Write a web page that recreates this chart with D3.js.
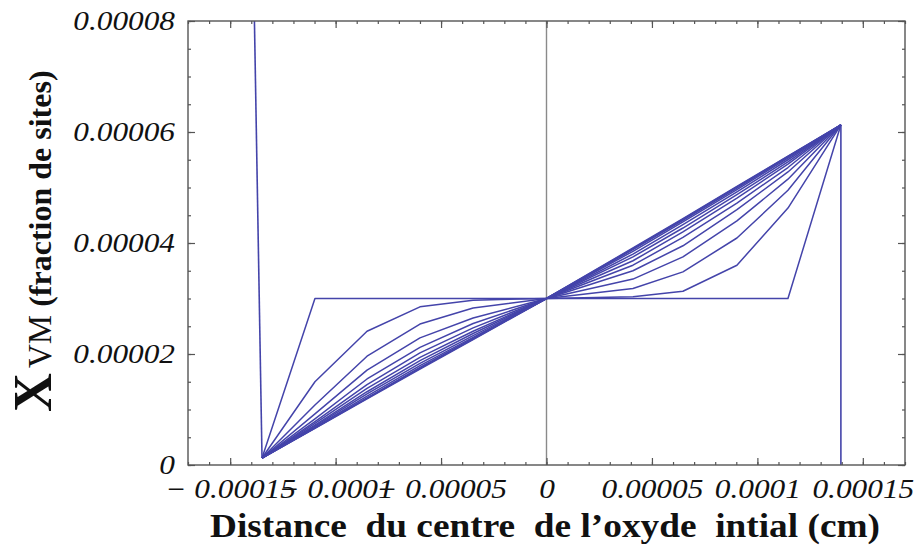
<!DOCTYPE html>
<html>
<head>
<meta charset="utf-8">
<script src="https://cdn.jsdelivr.net/npm/d3@7"></script>
<style>
  body { margin: 0; background: #fff; }
  svg { display: block; }
</style>
</head>
<body>
<svg width="920" height="552"></svg>
<script>
// node positions (cm) of the profiles
var nodeX = [-1.349e-4, -1.098e-4, -0.851e-4, -0.600e-4, -0.348e-4, 0, 0.410e-4, 0.647e-4, 0.903e-4, 1.145e-4, 1.396e-4];

// fraction de sites at each node, one array per time step
var p01 = [0.126e-5, 3.00e-5, 3.00e-5, 3.00e-5, 3.00e-5, 3e-5, 3.00e-5, 3.00e-5, 3.00e-5, 3.00e-5, 6.13e-5];
var p02 = [0.126e-5, 1.50e-5, 2.41e-5, 2.85e-5, 2.97e-5, 3e-5, 3.03e-5, 3.13e-5, 3.60e-5, 4.63e-5, 6.13e-5];
var p03 = [0.126e-5, 1.08e-5, 1.96e-5, 2.54e-5, 2.83e-5, 3e-5, 3.18e-5, 3.48e-5, 4.09e-5, 4.95e-5, 6.13e-5];
var p04 = [0.126e-5, 0.92e-5, 1.71e-5, 2.29e-5, 2.65e-5, 3e-5, 3.35e-5, 3.75e-5, 4.40e-5, 5.15e-5, 6.13e-5];
var p05 = [0.126e-5, 0.83e-5, 1.55e-5, 2.12e-5, 2.55e-5, 3e-5, 3.50e-5, 3.95e-5, 4.60e-5, 5.28e-5, 6.13e-5];
var p06 = [0.126e-5, 0.78e-5, 1.45e-5, 2.02e-5, 2.47e-5, 3e-5, 3.60e-5, 4.10e-5, 4.72e-5, 5.36e-5, 6.13e-5];
var p07 = [0.126e-5, 0.75e-5, 1.38e-5, 1.94e-5, 2.41e-5, 3e-5, 3.68e-5, 4.20e-5, 4.81e-5, 5.42e-5, 6.13e-5];
var p08 = [0.126e-5, 0.72e-5, 1.32e-5, 1.88e-5, 2.37e-5, 3e-5, 3.75e-5, 4.27e-5, 4.87e-5, 5.46e-5, 6.13e-5];
var p09 = [0.126e-5, 0.70e-5, 1.28e-5, 1.83e-5, 2.33e-5, 3e-5, 3.80e-5, 4.33e-5, 4.92e-5, 5.50e-5, 6.13e-5];
var p10 = [0.126e-5, 0.68e-5, 1.24e-5, 1.79e-5, 2.30e-5, 3e-5, 3.85e-5, 4.38e-5, 4.96e-5, 5.53e-5, 6.13e-5];
var p11 = [0.126e-5, 0.67e-5, 1.21e-5, 1.76e-5, 2.28e-5, 3e-5, 3.88e-5, 4.41e-5, 4.99e-5, 5.55e-5, 6.13e-5];
var p12 = [0.126e-5, 0.665e-5, 1.20e-5, 1.74e-5, 2.27e-5, 3e-5, 3.90e-5, 4.43e-5, 5.01e-5, 5.56e-5, 6.13e-5];
var p13 = [0.126e-5, 0.66e-5, 1.19e-5, 1.73e-5, 2.26e-5, 3e-5, 3.91e-5, 4.44e-5, 5.02e-5, 5.565e-5, 6.13e-5];
var profiles = [p01, p02, p03, p04, p05, p06, p07, p08, p09, p10, p11, p12, p13];

// boundary lines (interfaces)
var leftEdgeX = [-1.385e-4, -1.349e-4], leftEdgeY = [8.0e-5, 0.126e-5];
var rightEdgeX = [1.396e-4, 1.396e-4], rightEdgeY = [6.13e-5, 0];

var xTicks = [-0.00015, -0.0001, -0.00005, 0, 0.00005, 0.0001, 0.00015];
var xTickLabels = ["\u2212 0.00015", "\u2212 0.0001", "\u2212 0.00005", "0", "0.00005", "0.0001", "0.00015"];
var yTicks = [0, 0.00002, 0.00004, 0.00006, 0.00008];
var yTickLabels = ["0", "0.00002", "0.00004", "0.00006", "0.00008"];

var svg = d3.select("svg");
var pL = 188, pR = 905, pT = 21, pB = 465;
var blue = "#4444aa";
var sx = 1.16; // labels look horizontally stretched

var x = d3.scaleLinear().domain([-0.00017, 0.00017]).range([pL, pR]);
var y = d3.scaleLinear().domain([0, 0.00008]).range([pB, pT]);

svg.append("rect").attr("width", 920).attr("height", 552).attr("fill", "#fff");

var plot = svg.append("g");
plot.append("clipPath").attr("id", "clip")
  .append("rect").attr("x", pL).attr("y", pT).attr("width", pR - pL).attr("height", pB - pT);

// x = 0 line
plot.append("line")
  .attr("x1", x(0)).attr("x2", x(0)).attr("y1", pT).attr("y2", pB)
  .attr("stroke", "#8a8a8a").attr("stroke-width", 1.4);

var line = d3.line().x(function(d) { return x(d[0]); }).y(function(d) { return y(d[1]); });
var curves = plot.append("g").attr("clip-path", "url(#clip)");

profiles.forEach(function(p) {
  curves.append("path")
    .attr("d", line(nodeX.map(function(v, i) { return [v, p[i]]; })))
    .attr("fill", "none").attr("stroke", blue).attr("stroke-width", 1.5)
    .attr("stroke-linejoin", "round");
});
curves.append("path")
  .attr("d", line(leftEdgeX.map(function(v, i) { return [v, leftEdgeY[i]]; })))
  .attr("fill", "none").attr("stroke", blue).attr("stroke-width", 1.6);
curves.append("path")
  .attr("d", line(rightEdgeX.map(function(v, i) { return [v, rightEdgeY[i]]; })))
  .attr("fill", "none").attr("stroke", blue).attr("stroke-width", 1.6);

// frame with inward ticks on all sides
var xMinor = d3.range(-17, 18).map(function(i) { return i * 1e-5; });
var yMinor = d3.range(0, 17).map(function(i) { return i * 5e-6; });

function tickStyle(g) {
  g.select(".domain").remove();
  g.selectAll("line").attr("stroke", "#555").attr("stroke-width", 1.2);
}

svg.append("g").attr("transform", "translate(0," + pB + ")")
  .call(d3.axisBottom(x).tickValues(xMinor).tickSize(-3).tickFormat(""))
  .call(tickStyle);
svg.append("g").attr("transform", "translate(0," + pT + ")")
  .call(d3.axisTop(x).tickValues(xMinor).tickSize(-3).tickFormat(""))
  .call(tickStyle);
svg.append("g").attr("transform", "translate(" + pL + ",0)")
  .call(d3.axisLeft(y).tickValues(yMinor).tickSize(-3).tickFormat(""))
  .call(tickStyle);
svg.append("g").attr("transform", "translate(" + pR + ",0)")
  .call(d3.axisRight(y).tickValues(yMinor).tickSize(-3).tickFormat(""))
  .call(tickStyle);

var xAxis = svg.append("g").attr("transform", "translate(0," + pB + ")")
  .call(d3.axisBottom(x).tickValues(xTicks).tickSize(-7).tickPadding(14)
    .tickFormat(function(d, i) { return xTickLabels[i]; }))
  .call(tickStyle);
svg.append("g").attr("transform", "translate(0," + pT + ")")
  .call(d3.axisTop(x).tickValues(xTicks).tickSize(-7).tickFormat(""))
  .call(tickStyle);
var yAxis = svg.append("g").attr("transform", "translate(" + pL + ",0)")
  .call(d3.axisLeft(y).tickValues(yTicks).tickSize(-7).tickPadding(13)
    .tickFormat(function(d, i) { return yTickLabels[i]; }))
  .call(tickStyle);
svg.append("g").attr("transform", "translate(" + pR + ",0)")
  .call(d3.axisRight(y).tickValues(yTicks).tickSize(-7).tickFormat(""))
  .call(tickStyle);

xAxis.selectAll("text")
  .attr("font-family", "'Liberation Serif', serif").attr("font-style", "italic")
  .attr("font-size", 27).attr("fill", "#111")
  .style("white-space", "pre")
  .attr("transform", "scale(" + sx + ",1)");
yAxis.selectAll("text")
  .attr("font-family", "'Liberation Serif', serif").attr("font-style", "italic")
  .attr("font-size", 27).attr("fill", "#111")
  .attr("x", -13 / sx)
  .attr("transform", "scale(" + sx + ",1)");

svg.append("rect")
  .attr("x", pL).attr("y", pT).attr("width", pR - pL).attr("height", pB - pT)
  .attr("fill", "none").attr("stroke", "#555").attr("stroke-width", 1.4);

// axis titles
svg.append("text")
  .attr("x", 545).attr("y", 537)
  .attr("text-anchor", "middle")
  .attr("font-family", "'Liberation Serif', serif").attr("font-weight", "bold")
  .attr("font-size", 34).attr("fill", "#111")
  .style("white-space", "pre")
  .attr("textLength", 670).attr("lengthAdjust", "spacingAndGlyphs")
  .text("Distance  du centre  de l\u2019oxyde  intial (cm)");

var yt = svg.append("text")
  .attr("transform", "translate(51,412) rotate(-90)")
  .attr("font-family", "'Liberation Serif', serif").attr("fill", "#111");
yt.append("tspan").attr("font-size", 54).attr("font-weight", "bold").text("X");
yt.append("tspan").attr("font-size", 33).attr("dx", 5).text("VM");
yt.append("tspan").attr("font-size", 32).attr("font-weight", "bold").text(" (fraction de sites)");
</script>
</body>
</html>
